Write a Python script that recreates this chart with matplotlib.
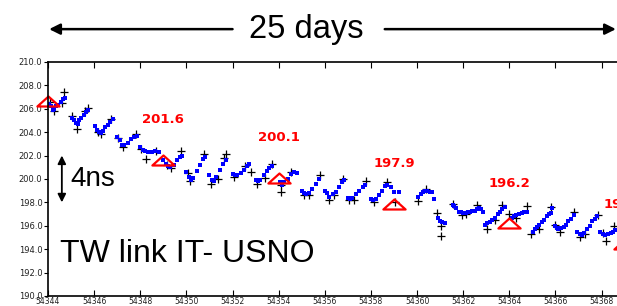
import numpy as np
from matplotlib import pyplot as plt
from matplotlib.path import Path
import matplotlib.transforms as mtransforms

# blue points (MJD, ns)
mjd_b = [54344.05,54344.12,54344.20,54344.28,54344.36,54344.45,54344.55,54344.65,54344.75,
         54345.05,54345.12,54345.20,54345.28,54345.36,54345.45,54345.55,54345.65,54345.75,
         54346.05,54346.12,54346.20,54346.28,54346.38,54346.48,54346.58,54346.70,54346.80,
         54347.00,54347.10,54347.20,54347.30,54347.45,54347.60,54347.72,54347.85,
         54348.00,54348.10,54348.20,54348.35,54348.50,54348.65,54348.80,
         54349.00,54349.10,54349.20,54349.30,54349.45,54349.60,54349.72,54349.80,
         54350.00,54350.10,54350.20,54350.30,54350.45,54350.60,54350.72,54350.80,
         54351.00,54351.10,54351.20,54351.30,54351.45,54351.60,54351.72,
         54352.00,54352.10,54352.20,54352.35,54352.50,54352.62,54352.72,
         54353.00,54353.10,54353.20,54353.35,54353.50,54353.60,54353.70,
         54354.05,54354.15,54354.25,54354.40,54354.55,54354.68,54354.80,
         54355.00,54355.10,54355.20,54355.30,54355.45,54355.60,54355.75,
         54356.00,54356.10,54356.20,54356.35,54356.50,54356.60,54356.75,54356.85,
         54357.00,54357.10,54357.20,54357.35,54357.50,54357.65,54357.75,
         54358.00,54358.10,54358.20,54358.35,54358.50,54358.60,54358.70,54358.85,54359.00,54359.20,
         54360.05,54360.15,54360.25,54360.35,54360.45,54360.55,54360.65,54360.75,
         54360.90,54361.00,54361.10,54361.20,
         54361.55,54361.62,54361.70,54361.80,54361.90,54362.00,54362.10,54362.20,54362.30,54362.40,
         54362.50,54362.60,54362.70,54362.78,54362.85,
         54362.95,54363.05,54363.15,54363.25,54363.38,54363.50,54363.60,54363.70,54363.80,
         54364.10,54364.20,54364.30,54364.42,54364.55,54364.65,54364.75,
         54365.02,54365.10,54365.20,54365.30,54365.40,54365.50,54365.62,54365.72,54365.80,54365.85,
         54366.00,54366.06,54366.12,54366.22,54366.35,54366.45,54366.55,54366.68,54366.80,
         54366.95,54367.05,54367.15,54367.25,54367.38,54367.50,54367.60,54367.70,54367.80,
         54367.95,54368.05,54368.15,54368.28,54368.40,54368.50,54368.60]
ns_b = [206.4,206.2,205.9,206.0,206.2,206.3,206.6,206.8,206.9,
        205.2,205.0,204.8,204.7,205.0,205.2,205.5,205.7,205.9,
        204.5,204.2,204.0,203.9,204.1,204.4,204.6,204.9,205.1,
        203.6,203.3,202.9,202.9,203.1,203.4,203.6,203.7,
        202.7,202.5,202.4,202.3,202.3,202.4,202.3,
        201.6,201.3,201.1,201.0,201.2,201.6,201.9,202.0,
        200.6,200.2,199.9,200.1,200.7,201.2,201.7,201.9,
        200.3,199.9,199.8,200.2,200.8,201.3,201.6,
        200.4,200.3,200.3,200.5,200.8,201.1,201.3,
        199.9,199.8,199.9,200.3,200.7,200.9,201.1,
        199.7,199.5,199.7,200.0,200.4,200.6,200.5,
        199.0,198.8,198.7,198.8,199.1,199.6,200.0,
        199.0,198.8,198.5,198.7,198.9,199.3,199.7,199.9,
        198.4,198.3,198.4,198.7,199.0,199.3,199.5,
        198.3,198.2,198.3,198.6,199.0,199.4,199.5,199.3,198.9,198.9,
        198.5,198.7,198.9,199.0,199.0,198.9,198.9,198.3,
        196.7,196.4,196.3,196.2,
        197.8,197.7,197.5,197.2,197.2,197.1,197.1,197.2,197.2,197.3,
        197.3,197.4,197.5,197.4,197.2,
        196.1,196.2,196.3,196.5,196.7,197.0,197.2,197.4,197.6,
        196.7,196.8,196.9,197.0,197.1,197.2,197.2,
        195.5,195.7,195.9,196.1,196.3,196.5,196.8,197.0,197.1,197.5,
        196.0,195.8,195.7,195.8,195.9,196.1,196.4,196.6,196.9,
        195.5,195.3,195.2,195.4,195.7,196.0,196.4,196.6,196.8,
        195.5,195.3,195.2,195.3,195.4,195.5,195.6]

# black crosses (MJD, ns)
mjd_k = [54344.10,54344.25,54344.70,54344.60,
         54345.05,54345.25,54345.75,54345.60,
         54346.15,54346.75,54346.30,
         54347.25,54347.80,54347.05,
         54348.05,54348.25,54348.70,
         54349.15,54349.35,54349.78,
         54350.15,54350.05,54350.78,
         54351.05,54351.35,54351.72,54351.65,
         54352.05,54352.78,54352.55,
         54353.05,54353.40,54353.70,
         54354.10,54354.10,54354.55,
         54355.10,54355.30,54355.80,
         54356.20,54356.40,54356.80,
         54357.05,54357.80,54357.25,
         54358.15,54358.70,54359.05,
         54360.05,54360.40,
         54360.85,54361.05,54361.05,
         54361.55,54361.95,54362.60,54362.10,
         54363.05,54363.70,54363.40,
         54364.00,54364.75,54364.30,
         54364.95,54365.80,54365.30,
         54366.00,54366.80,54366.20,
         54367.05,54367.85,54367.30,
         54368.20,54368.55,54368.05]
ns_k = [206.6,205.8,207.4,206.5,
        205.4,204.3,206.1,205.8,
        204.0,205.1,203.8,
        202.7,203.8,203.5,
        202.6,201.7,202.4,
        201.2,200.9,202.4,
        199.8,200.5,202.1,
        199.6,200.0,202.1,201.8,
        200.2,200.6,201.1,
        199.6,200.1,201.3,
        198.9,199.5,200.6,
        198.6,198.6,200.3,
        198.2,198.6,200.0,
        198.2,199.8,198.2,
        198.0,199.7,198.0,
        198.1,199.1,
        197.1,196.0,195.1,
        197.9,196.9,197.8,197.0,
        195.7,197.8,196.5,
        197.0,197.7,196.7,
        195.3,197.6,195.7,
        196.1,197.2,195.5,
        195.0,196.9,195.3,
        194.7,196.0,195.4]

# red triangles and their labels
mjd_t = [54344, 54349, 54354, 54359, 54364, 54369]
ns_t = [206.7, 201.6, 200.1, 197.9, 196.2, 194.4]
lab_t = ['', '201.6', '200.1', '197.9', '196.2', '194.4']

fig = plt.figure(figsize=(6.17, 3.06), dpi=100)
ax = fig.add_axes([0.0778, 0.0327, 0.972, 0.765])

ax.plot(mjd_k, ns_k, '+', color='black', ms=6, mew=0.9)
ax.plot(mjd_b, ns_b, 's', color='#0000ff', ms=3, mew=0)

tri = Path([(-1, -0.45), (1, -0.45), (0, 0.45), (-1, -0.45)],
           [Path.MOVETO, Path.LINETO, Path.LINETO, Path.CLOSEPOLY])
ax.plot(mjd_t, ns_t, linestyle='none', marker=tri, ms=16, mfc='none',
        mec='red', mew=1.6, clip_on=False)
for x, y, s in zip(mjd_t, ns_t, lab_t):
    ax.annotate(s, (x, y), xytext=(0, 29), textcoords='offset points',
                ha='center', va='center', color='red', fontsize=9.5,
                fontweight='bold', family='DejaVu Sans', annotation_clip=False)

ax.set_xlim(54344, 54370)
ax.set_ylim(190, 210)
ax.set_xticks(np.arange(54344, 54370, 2))
ax.set_yticks(np.arange(190, 210.1, 2))
ax.set_yticklabels(['%.1f' % v for v in np.arange(190, 210.1, 2)])
ax.tick_params(axis='x', direction='in', length=4, pad=0.5, labelsize=5.5,
               top=True, labelcolor='#222222')
ax.tick_params(axis='y', direction='out', length=3, pad=1, labelsize=6,
               labelcolor='#222222')
for sp in ax.spines.values():
    sp.set_linewidth(1.2)

# 4 ns scale bar
ax.annotate('', xy=(54344.6, 198.0), xytext=(54344.6, 202.0),
            arrowprops=dict(arrowstyle='<|-|>', color='black', lw=1.3,
                            mutation_scale=12, shrinkA=0, shrinkB=0))
ax.text(54344.95, 200.0, '4ns', fontsize=20, family='Liberation Sans',
        va='center', ha='left')
ax.text(54344.52, 193.6, 'TW link IT- USNO', fontsize=23,
        family='Liberation Sans', va='center', ha='left')

# 25 days arrows above the plot
trans = mtransforms.blended_transform_factory(ax.transData, ax.transAxes)
ax.text(54355.2, 1.10, '25 days', transform=trans, fontsize=23.5,
        family='Liberation Sans', ha='center', va='baseline')
ax.annotate('', xy=(54344.05, 1.14), xytext=(54352.0, 1.14),
            xycoords=trans, textcoords=trans, annotation_clip=False,
            arrowprops=dict(arrowstyle='-|>', color='black', lw=1.8,
                            mutation_scale=16, shrinkA=0, shrinkB=0))
ax.annotate('', xy=(54368.62, 1.14), xytext=(54358.6, 1.14),
            xycoords=trans, textcoords=trans, annotation_clip=False,
            arrowprops=dict(arrowstyle='-|>', color='black', lw=1.8,
                            mutation_scale=16, shrinkA=0, shrinkB=0))

fig.savefig('out.png', dpi=100)
